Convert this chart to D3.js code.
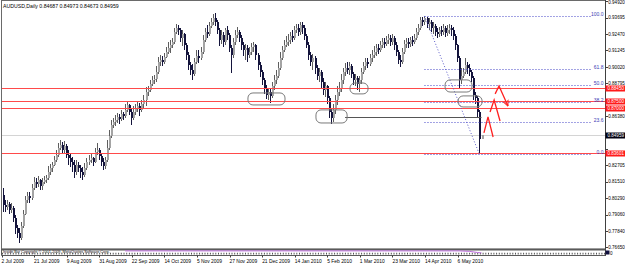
<!DOCTYPE html>
<html><head><meta charset="utf-8">
<script src="https://cdn.jsdelivr.net/npm/d3@7/dist/d3.min.js"></script>
<style>html,body{margin:0;padding:0;background:#fff;overflow:hidden}svg{display:block}</style>
</head><body>
<svg id="c" width="625" height="265"></svg>
<script>
const symbolTitle = "AUDUSD,Daily";
const lastQuote = ["0.84687","0.84973","0.84673","0.84959"];
const dateLabels = ["2 Jul 2009","21 Jul 2009","9 Aug 2009","31 Aug 2009","22 Sep 2009","14 Oct 2009","5 Nov 2009","27 Nov 2009","21 Dec 2009","14 Jan 2010","5 Feb 2010","1 Mar 2010","23 Mar 2010","14 Apr 2010","6 May 2010"];
const dateLabelIdx = [0,16,32,48,64,80,96,112,128,144,160,176,192,208,224];
const priceTicks = ["0.94920","0.93695","0.92470","0.91245","0.90020","0.88795","0.87570","0.86380","0.85150","0.83930","0.82705","0.81510","0.80290","0.79060","0.77840","0.76650"];

const opens = [
.8051,.7977,.7962,.7984,.7940,.7955,.7880,.7806,.7769,.7732,
.7821,.7910,.8014,.8044,.8029,.8103,.8148,.8133,.8162,.8118,
.8148,.8162,.8177,.8222,.8252,.8274,.8311,.8348,.8400,.8423,
.8386,.8415,.8348,.8326,.8296,.8274,.8222,.8274,.8252,.8222,
.8200,.8252,.8296,.8311,.8326,.8296,.8371,.8386,.8341,.8296,
.8267,.8311,.8400,.8490,.8571,.8594,.8608,.8631,.8616,.8653,
.8638,.8683,.8720,.8668,.8623,.8668,.8698,.8712,.8683,.8727,
.8757,.8816,.8831,.8876,.8906,.8913,.8965,.9039,.9054,.9039,
.9077,.9114,.9143,.9166,.9188,.9262,.9292,.9277,.9218,.9247,
.9166,.9091,.9017,.8980,.8950,.9039,.9084,.9069,.9114,.9203,
.9262,.9247,.9307,.9337,.9366,.9337,.9277,.9203,.9240,.9188,
.9277,.9240,.9143,.9091,.9188,.9240,.9262,.9218,.9166,.9129,
.9143,.9091,.9114,.9151,.9166,.9091,.9017,.8965,.8906,.8846,
.8794,.8816,.8787,.8861,.8906,.8935,.8995,.9069,.9129,.9166,
.9188,.9203,.9232,.9218,.9277,.9292,.9262,.9314,.9292,.9232,
.9166,.9091,.9039,.9069,.8995,.8935,.8965,.8891,.8831,.8861,
.8772,.8668,.8623,.8683,.8757,.8816,.8846,.8906,.8965,.8995,
.8980,.9010,.8950,.8906,.8920,.8876,.8906,.8965,.9010,.9039,
.9024,.9069,.9091,.9114,.9143,.9129,.9166,.9188,.9173,.9203,
.9218,.9188,.9218,.9166,.9114,.9054,.9039,.9114,.9173,.9188,
.9173,.9203,.9188,.9218,.9262,.9292,.9351,.9337,.9366,.9322,
.9337,.9292,.9307,.9262,.9247,.9277,.9262,.9292,.9255,.9277,
.9292,.9277,.9232,.9166,.9069,.8906,.8935,.8965,.9017,.8995,
.8965,.8920,.8794,.8772,.8668,.84687];
const highs = [
.8103,.8014,.8014,.7999,.7992,.7969,.7902,.7828,.7806,.7850,
.7940,.8044,.8073,.8073,.8133,.8185,.8177,.8192,.8170,.8177,
.8192,.8200,.8267,.8281,.8296,.8341,.8386,.8438,.8460,.8445,
.8452,.8430,.8386,.8356,.8334,.8311,.8311,.8296,.8274,.8259,
.8289,.8326,.8348,.8356,.8334,.8400,.8438,.8400,.8363,.8326,
.8334,.8460,.8534,.8608,.8623,.8646,.8660,.8653,.8683,.8668,
.8727,.8742,.8727,.8698,.8712,.8727,.8742,.8735,.8757,.8794,
.8854,.8861,.8906,.8935,.8943,.9010,.9077,.9091,.9084,.9106,
.9151,.9188,.9203,.9218,.9292,.9322,.9314,.9292,.9277,.9255,
.9181,.9114,.9039,.9024,.9069,.9129,.9129,.9151,.9240,.9292,
.9314,.9337,.9366,.9396,.9403,.9351,.9292,.9277,.9262,.9292,
.9307,.9255,.9166,.9218,.9277,.9299,.9277,.9240,.9188,.9173,
.9166,.9151,.9181,.9188,.9173,.9106,.9039,.8980,.8920,.8868,
.8846,.8846,.8891,.8943,.8980,.9039,.9114,.9158,.9203,.9232,
.9247,.9262,.9277,.9307,.9322,.9322,.9337,.9337,.9314,.9247,
.9188,.9114,.9099,.9084,.9017,.8995,.8980,.8920,.8891,.8868,
.8787,.8698,.8727,.8794,.8861,.8891,.8950,.8995,.9032,.9039,
.9039,.9024,.8965,.8950,.8935,.8935,.8995,.9039,.9069,.9069,
.9099,.9129,.9158,.9173,.9173,.9195,.9218,.9218,.9232,.9247,
.9240,.9247,.9232,.9188,.9129,.9091,.9143,.9203,.9218,.9218,
.9225,.9232,.9247,.9292,.9322,.9374,.9374,.9381,.9374,.9366,
.9351,.9337,.9322,.9292,.9299,.9307,.9322,.9307,.9314,.9322,
.9314,.9299,.9247,.9173,.9084,.8995,.8995,.9069,.9039,.9024,
.8980,.8935,.8816,.8787,.8683,.84973];
const lows = [
.7925,.7925,.7940,.7910,.7917,.7850,.7761,.7732,.7694,.7717,
.7806,.7902,.7992,.7992,.8014,.8088,.8103,.8111,.8088,.8088,
.8133,.8140,.8163,.8200,.8222,.8267,.8296,.8334,.8386,.8363,
.8356,.8326,.8274,.8259,.8222,.8177,.8200,.8222,.8177,.8163,
.8185,.8237,.8274,.8289,.8267,.8289,.8348,.8311,.8267,.8237,
.8244,.8296,.8386,.8475,.8549,.8564,.8586,.8579,.8601,.8608,
.8623,.8668,.8646,.8571,.8608,.8646,.8668,.8638,.8668,.8698,
.8712,.8787,.8816,.8861,.8876,.8891,.8950,.9010,.9010,.9024,
.9069,.9099,.9106,.9143,.9173,.9247,.9240,.9188,.9158,.9129,
.9054,.8980,.8943,.8906,.8935,.9024,.9032,.9054,.9099,.9188,
.9218,.9232,.9292,.9314,.9307,.9247,.9158,.9173,.9151,.9166,
.9203,.9114,.8958,.9069,.9166,.9218,.9188,.9129,.9084,.9054,
.9039,.9069,.9091,.9114,.9054,.8980,.8928,.8869,.8802,.8764,
.8757,.8735,.8772,.8831,.8876,.8920,.8980,.9054,.9114,.9151,
.9158,.9173,.9188,.9203,.9255,.9232,.9240,.9247,.9203,.9143,
.9054,.9010,.8980,.8950,.8906,.8891,.8846,.8794,.8779,.8727,
.8623,.8579,.8594,.8653,.8720,.8787,.8816,.8876,.8935,.8950,
.8943,.8920,.8869,.8861,.8831,.8816,.8876,.8950,.8980,.8995,
.9010,.9039,.9069,.9084,.9099,.9114,.9143,.9143,.9158,.9173,
.9158,.9166,.9129,.9084,.9024,.9002,.9024,.9099,.9143,.9143,
.9151,.9158,.9173,.9203,.9240,.9277,.9307,.9314,.9292,.9277,
.9262,.9247,.9232,.9218,.9225,.9232,.9240,.9225,.9232,.9247,
.9232,.9203,.9129,.9039,.8846,.8876,.8920,.8950,.8950,.8935,
.8891,.8757,.8727,.8631,.8352,.84673];
const closes = [
.7977,.7962,.7984,.7940,.7955,.7880,.7806,.7769,.7732,.7821,
.7910,.8014,.8044,.8029,.8103,.8148,.8133,.8162,.8118,.8148,
.8162,.8177,.8222,.8252,.8274,.8311,.8348,.8400,.8423,.8386,
.8415,.8348,.8326,.8296,.8274,.8222,.8274,.8252,.8222,.8200,
.8252,.8296,.8311,.8326,.8296,.8371,.8386,.8341,.8296,.8267,
.8311,.8400,.8490,.8571,.8594,.8608,.8631,.8616,.8653,.8638,
.8683,.8720,.8668,.8623,.8668,.8698,.8712,.8683,.8727,.8757,
.8816,.8831,.8876,.8906,.8913,.8965,.9039,.9054,.9039,.9077,
.9114,.9143,.9166,.9188,.9262,.9292,.9277,.9218,.9247,.9166,
.9091,.9017,.8980,.8950,.9039,.9084,.9069,.9114,.9203,.9262,
.9247,.9307,.9337,.9366,.9337,.9277,.9203,.9240,.9188,.9277,
.9240,.9143,.9091,.9188,.9240,.9262,.9218,.9166,.9129,.9143,
.9091,.9114,.9151,.9166,.9091,.9017,.8965,.8906,.8846,.8794,
.8816,.8787,.8861,.8906,.8935,.8995,.9069,.9129,.9166,.9188,
.9203,.9232,.9218,.9277,.9292,.9262,.9314,.9292,.9232,.9166,
.9091,.9039,.9069,.8995,.8935,.8965,.8891,.8831,.8861,.8772,
.8668,.8623,.8683,.8757,.8816,.8846,.8906,.8965,.8995,.8980,
.9010,.8950,.8906,.8920,.8876,.8906,.8965,.9010,.9039,.9024,
.9069,.9091,.9114,.9143,.9129,.9166,.9188,.9173,.9203,.9218,
.9188,.9218,.9166,.9114,.9054,.9039,.9114,.9173,.9188,.9173,
.9203,.9188,.9218,.9262,.9292,.9351,.9337,.9366,.9322,.9337,
.9292,.9307,.9262,.9247,.9277,.9262,.9292,.9255,.9277,.9292,
.9277,.9232,.9166,.9069,.8906,.8935,.8965,.9017,.8995,.8965,
.8920,.8794,.8772,.8668,.8469,.84959];

const hLines = [0.8845, 0.8750, 0.8700, 0.83601];
const hLineLabels = ["0.88450","0.87500","0.87000","0.83601"];
const bidPrice = 0.84959;
const bidLabel = "0.84959";
const supportPrice = 0.8630, supportFrom = 168, supportTo = 235;
const fibLevels = [0, 23.6, 38.2, 50, 61.8, 100];
const fibLabels = ["0.0","23.6","38.2","50.0","61.8","100.0"];
const fibFrom = 207, fibTo = 234;
const zones = [[120.3,138.5,0.8809,0.8720],[153.7,169,0.8683,0.8586],[170.4,179.3,0.8883,0.8802],[217.1,230.3,0.8906,0.8816],[223.5,235.3,0.8787,0.8705]];
const arrows = [
  [[236.2,0.8512],[238.2,0.8631],[240.7,0.8482]],
  [[239.2,0.8668],[241.2,0.8757],[244.1,0.8601]],
  [[241.7,0.8802],[243.6,0.8861],[248.0,0.8712]]
];
const indicatorPts = [[60,0.8],[224,0.8],[229,0.7],[233,0.45],[235,0.35]];
const subTitle = "Inside Bar  Copyright \u00A9 2001-2009, MetaQuotes Software Corp.";

const svg = d3.select("#c");
const FONT = "'Liberation Sans', Arial, sans-serif";
svg.append("rect").attr("width",625).attr("height",265).attr("fill","#fff");
const plotL = 2, plotR = 605, plotT = 1, plotB = 249;
const x = d3.scaleLinear().domain([0,235]).range([3,481.5]);
const y = d3.scaleLinear().domain([0.76497,0.94922]).range([plotB,plotT]);

const defs = svg.append("defs");
defs.append("clipPath").attr("id","clip")
  .append("rect").attr("x",plotL).attr("y",plotT).attr("width",plotR-plotL).attr("height",plotB-plotT);
defs.append("marker").attr("id","ah").attr("viewBox","0 0 10 10").attr("refX",9).attr("refY",5)
  .attr("markerWidth",5).attr("markerHeight",5).attr("orient","auto")
  .append("path").attr("d","M0,1 L9,5 L0,9").attr("fill","none").attr("stroke","#ff2020").attr("stroke-width",1.6);

const g = svg.append("g").attr("clip-path","url(#clip)");
const py = p => Math.round(y(p)) + 0.5;

g.append("line").attr("x1",plotL).attr("x2",plotR).attr("y1",py(bidPrice)).attr("y2",py(bidPrice))
  .attr("stroke","#d4d4d4").attr("stroke-width",1);

// candles
const bars = d3.range(closes.length).map(i => ({i, o:opens[i], h:highs[i], l:lows[i], c:closes[i]}));
const up = d => d.c >= d.o;
const cg = g.append("g").attr("shape-rendering","crispEdges");
cg.selectAll("line.w").data(bars).join("line").attr("class","w")
  .attr("x1",d=>Math.round(x(d.i))+0.5).attr("x2",d=>Math.round(x(d.i))+0.5)
  .attr("y1",d=>y(d.h)).attr("y2",d=>y(d.l))
  .attr("stroke",d=>up(d)?"#5e5e5e":"#14143c").attr("stroke-width",1);
cg.selectAll("rect.b").data(bars).join("rect").attr("class","b")
  .attr("x",d=>Math.round(x(d.i))-0.5).attr("width",2)
  .attr("y",d=>y(Math.max(d.o,d.c))).attr("height",d=>Math.max(1, Math.abs(y(d.o)-y(d.c))))
  .attr("fill",d=>up(d)?"#a4a4a4":"#14143c");

g.selectAll("line.red").data(hLines).join("line").attr("class","red")
  .attr("x1",plotL).attr("x2",plotR).attr("y1",d=>py(d)).attr("y2",d=>py(d))
  .attr("stroke","#ff4a4a").attr("stroke-width",1);

g.append("line").attr("x1",x(supportFrom)).attr("x2",x(supportTo)).attr("y1",py(supportPrice)).attr("y2",py(supportPrice))
  .attr("stroke","#555").attr("stroke-width",1);

// fibonacci
const fibHigh = highs[fibFrom], fibLow = lows[fibTo];
const fx0 = x(fibFrom), fx1 = plotR - 13;
const fibG = g.append("g");
fibLevels.forEach((lv,k) => {
  const p = fibLow + (fibHigh - fibLow) * lv / 100;
  fibG.append("line").attr("x1",fx0).attr("x2",fx1).attr("y1",py(p)).attr("y2",py(p))
    .attr("stroke","#4646c8").attr("stroke-width",1).attr("stroke-dasharray","1,2");
  fibG.append("text").attr("x",plotR-1.5).attr("y",py(p)-1).attr("text-anchor","end")
    .attr("font-family",FONT).attr("font-size",5).attr("fill","#3c3cb4").text(fibLabels[k]);
});
fibG.append("line").attr("x1",x(fibFrom)).attr("y1",y(fibHigh)).attr("x2",x(fibTo)).attr("y2",y(fibLow))
  .attr("stroke","#5a5ac8").attr("stroke-width",1).attr("stroke-dasharray","1,2");

g.selectAll("rect.z").data(zones).join("rect").attr("class","z")
  .attr("x",d=>x(d[0])).attr("width",d=>x(d[1])-x(d[0]))
  .attr("y",d=>y(d[2])).attr("height",d=>y(d[3])-y(d[2]))
  .attr("rx",5).attr("ry",5).attr("fill","none").attr("stroke","#7a7a7a").attr("stroke-width",1);

const aline = d3.line().x(d=>x(d[0])).y(d=>y(d[1]));
g.selectAll("path.ar").data(arrows).join("path").attr("class","ar")
  .attr("d",aline).attr("fill","none").attr("stroke","#ff2020").attr("stroke-width",1.3)
  .attr("marker-end",(d,i)=> i===2 ? "url(#ah)" : null);

svg.append("rect").attr("x",plotL-0.5).attr("y",plotT-0.5).attr("width",plotR-plotL+1).attr("height",plotB-plotT+0.5)
  .attr("fill","none").attr("stroke","#6a6a6a").attr("stroke-width",1);

svg.append("text").attr("x",3).attr("y",7.5).attr("font-family",FONT).attr("font-size",5.2).attr("fill","#000")
  .text(symbolTitle + "  " + lastQuote.join(" "));

// right axis
const ax = svg.append("g");
ax.append("line").attr("x1",605.5).attr("x2",605.5).attr("y1",0).attr("y2",256).attr("stroke","#404040");
const boxYs = hLines.concat([bidPrice]).map(p => y(p));
priceTicks.forEach(t => {
  const v = +t, yy = y(v);
  ax.append("line").attr("x1",606).attr("x2",608).attr("y1",Math.round(yy)+0.5).attr("y2",Math.round(yy)+0.5).attr("stroke","#404040");
  if (boxYs.some(b => Math.abs(b - yy) < 4.5)) return; // covered by a price box in the reference
  ax.append("text").attr("x",608.3).attr("y",Math.max(yy+1.7, 4.2)).attr("font-family",FONT).attr("font-size",4.55).attr("fill","#000").text(t);
});
hLines.forEach((p,k) => {
  const yy = py(p);
  ax.append("rect").attr("x",605.5).attr("y",yy-3).attr("width",20).attr("height",6).attr("fill","#ff1a1a");
  ax.append("text").attr("x",607.5).attr("y",yy+1.7).attr("font-family",FONT).attr("font-size",4.55).attr("fill","#fff").text(hLineLabels[k]);
});
{
  const yy = py(bidPrice);
  ax.append("rect").attr("x",605.5).attr("y",yy-3).attr("width",20).attr("height",6).attr("fill","#000010");
  ax.append("text").attr("x",607.5).attr("y",yy+1.7).attr("font-family",FONT).attr("font-size",4.55).attr("fill","#fff").text(bidLabel);
}

// sub window
const subT = 250, subB = 255.5;
svg.append("line").attr("x1",plotL-0.5).attr("x2",605.5).attr("y1",249.6).attr("y2",249.6).attr("stroke","#5a5a5a").attr("stroke-width",1.6);
svg.append("line").attr("x1",plotL-0.5).attr("x2",605.5).attr("y1",subB).attr("y2",subB).attr("stroke","#5a5a5a").attr("stroke-width",1);
svg.append("line").attr("x1",plotL-0.5).attr("x2",plotL-0.5).attr("y1",249).attr("y2",subB).attr("stroke","#5a5a5a");
svg.append("line").attr("x1",plotL).attr("x2",605).attr("y1",253.6).attr("y2",253.6).attr("stroke","#555").attr("stroke-width",1.6).attr("stroke-dasharray","1,1.7");
const sy = d3.scaleLinear().domain([0,1]).range([subB-1,subT]);
svg.append("path").datum(indicatorPts).attr("d",d3.line().x(d=>x(d[0])).y(d=>sy(d[1])))
  .attr("fill","none").attr("stroke","#c070e0").attr("stroke-width",1);
svg.append("text").attr("x",3).attr("y",252.6).attr("font-family",FONT).attr("font-size",3.8).attr("fill","#111").text(subTitle);
svg.append("rect").attr("x",605.5).attr("y",250.5).attr("width",4).attr("height",4).attr("fill","#101040");
svg.append("text").attr("x",610).attr("y",254.5).attr("font-family",FONT).attr("font-size",4.5).attr("fill","#000").text("0");

dateLabelIdx.forEach((idx,k) => {
  const xx = x(idx) - 1.5;
  svg.append("line").attr("x1",Math.round(xx)+0.5).attr("x2",Math.round(xx)+0.5).attr("y1",subB).attr("y2",subB+2).attr("stroke","#404040");
  svg.append("text").attr("x",Math.max(xx,1)).attr("y",262.6).attr("font-family",FONT).attr("font-size",4.9).attr("fill","#000").text(dateLabels[k]);
});
</script>
</body></html>
